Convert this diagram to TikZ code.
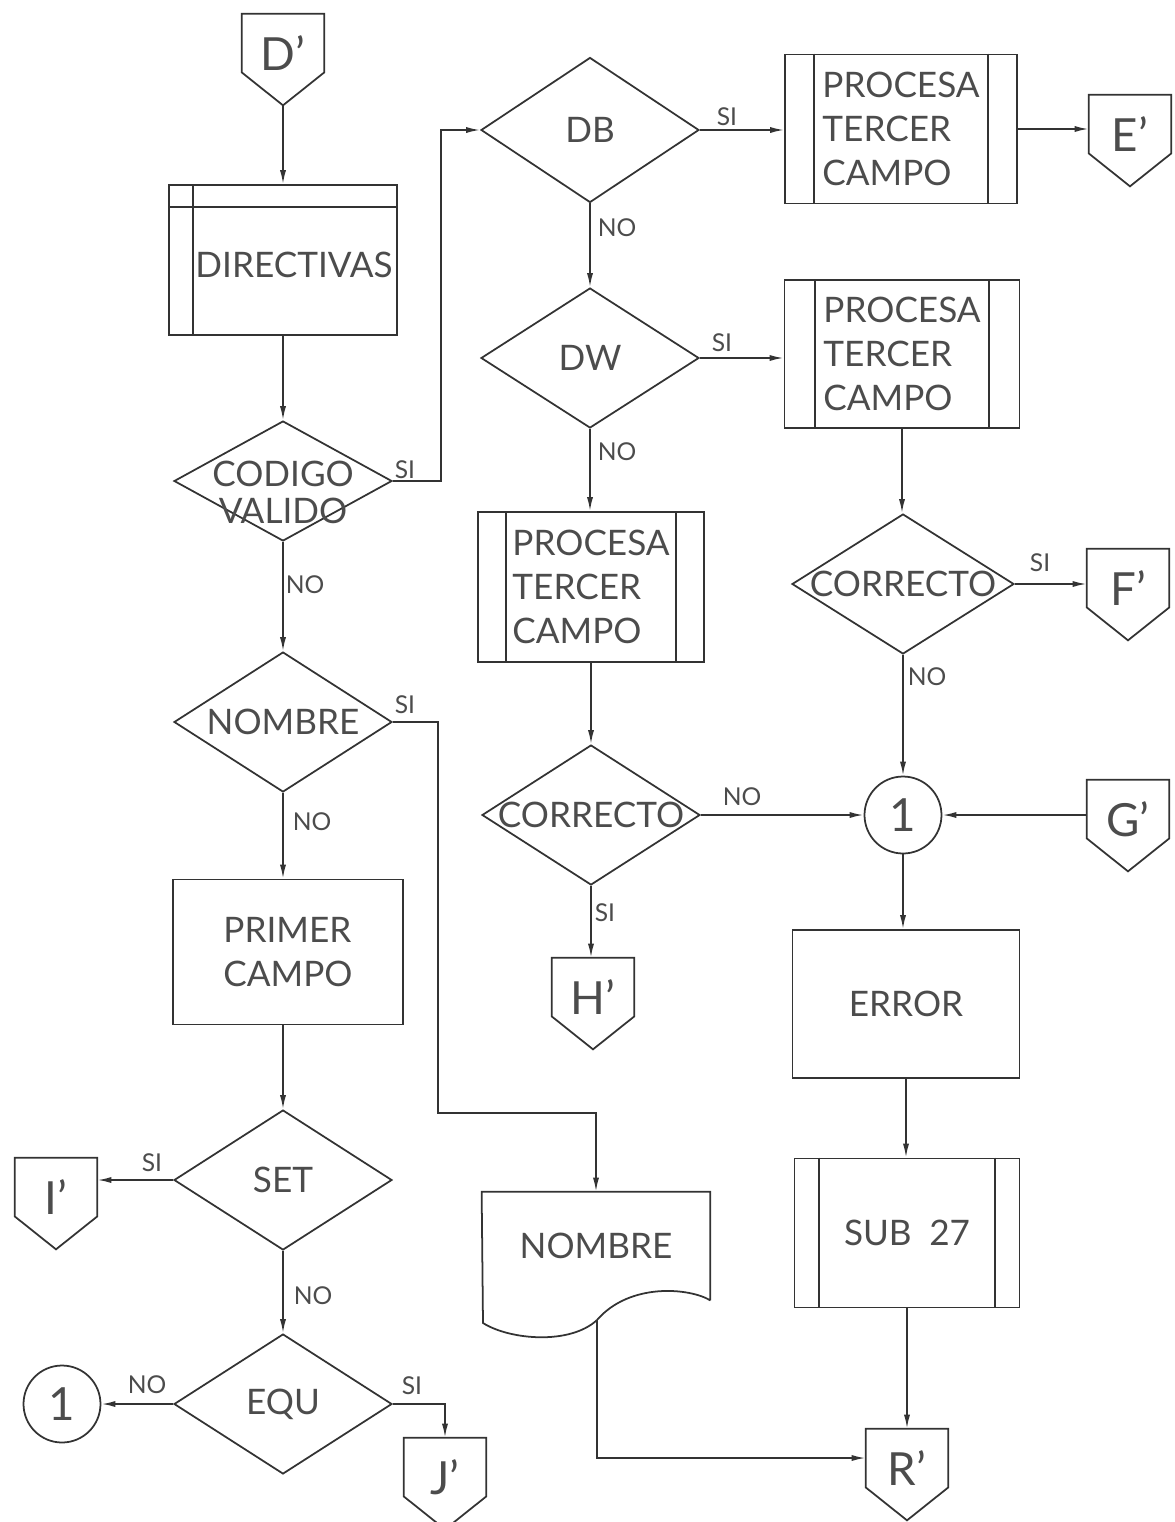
\documentclass[tikz,border=0pt]{standalone}
\usepackage{fontspec}
\setmainfont{Lato}
\usetikzlibrary{arrows.meta,shapes.geometric}

\tikzset{
  linea/.style={draw=black!80, line width=1pt},
  flujo/.style={linea, -{Latex[length=8pt,width=3.5pt]}},
  texto/.style={text=black!70, font=\fontsize{20}{25}\selectfont},
  caja/.style={linea, rectangle, inner sep=0, texto},
  decis/.style={linea, diamond, inner sep=0, minimum width=4.36cm, minimum height=2.8cm},
  conect/.style={rectangle, inner sep=0, minimum width=1.64cm, minimum height=1.16cm},
  letra/.style={text=black!70, font=\fontsize{26}{30}\selectfont},
  circ/.style={linea, circle, inner sep=0, minimum size=1.54cm, letra},
  etiq/.style={text=black!70, font=\fontsize{14}{16}\selectfont, inner sep=1pt},
}

%% conector de pagina: nombre, x, y, letra
\newcommand{\conector}[4]{%
  \node[conect, label={[letra, yshift=-0.2cm]center:#4}] (#1) at (#2,#3) {};
  \coordinate (#1t) at ([yshift=-0.66cm]#1.south);
  \draw[linea] (#1.north west) -- (#1.north east) -- (#1.south east) -- (#1t) -- (#1.south west) -- cycle;
}

\begin{document}
\begin{tikzpicture}[x=0.02cm, y=-0.02cm]
  \useasboundingbox (0,0) rectangle (1174,1522);
  %% Conectores
  \conector{Dp}{283}{43}{D'}
  \conector{Ep}{1130}{124}{E'}
  \conector{Fp}{1128}{578}{F'}
  \conector{Gp}{1128}{809}{G'}
  \conector{Hp}{593}{987}{H'}
  \conector{Ip}{56}{1187}{I'}
  \conector{Jp}{445}{1467}{J'}
  \conector{Rp}{907}{1458}{R'}
  %% Columna izquierda
  \node[caja, minimum width=4.56cm, minimum height=3cm, label={[texto, xshift=0.22cm, yshift=-0.1cm]center:DIRECTIVAS}] (Dir) at (283,260) {};
  \draw[linea] ([xshift=0.5cm]Dir.north west) -- ([xshift=0.5cm]Dir.south west);
  \draw[linea] ([yshift=-0.46cm]Dir.north west) -- ([yshift=-0.46cm]Dir.north east);
  \node[decis, minimum height=2.4cm, label={[texto, align=center, yshift=-0.22cm, font=\fontsize{20}{21}\selectfont]center:CODIGO\\VALIDO}] (Cod) at (283,481) {};
  \node[decis, label={[texto]center:NOMBRE}] (Nom) at (283,722) {};
  \node[caja, align=left, minimum width=4.6cm, minimum height=2.9cm] (Pri) at (288,952) {PRIMER\\CAMPO};
  \node[decis, label={[texto]center:SET}] (Set) at (283,1180) {};
  \node[decis, label={[texto]center:EQU}] (Equ) at (283,1404) {};
  \node[circ] (C1) at (62,1404) {1};
  %% Columna central
  \node[decis, minimum height=2.9cm, label={[texto]center:DB}] (Db) at (590,130) {};
  \node[decis, label={[texto]center:DW}] (Dw) at (590,358) {};
  \node[caja, align=left, minimum width=4.52cm, minimum height=3cm] (P3) at (591,587) {PROCESA\\TERCER\\CAMPO};
  \node[decis, label={[texto]center:CORRECTO}] (Cor1) at (591,815) {};
  \node[caja, draw=none, minimum width=4.54cm, minimum height=2.14cm] (Doc) at (596,1246) {NOMBRE};
  \draw[linea] (Doc.south east) -- (Doc.north east) -- (Doc.north west) -- (483,1323)
    .. controls (510,1340) and (570,1345) .. (597,1320)
    .. controls (630,1282) and (690,1288) .. (Doc.south east);
  \coordinate (DocS) at (597,1320);
  \coordinate (K1) at (438,1113);
  %% Columna derecha
  \node[caja, align=left, minimum width=4.64cm, minimum height=2.98cm] (P1) at (901,129) {PROCESA\\TERCER\\CAMPO};
  \node[caja, align=left, minimum width=4.7cm, minimum height=2.96cm] (P2) at (902,354) {PROCESA\\TERCER\\CAMPO};
  \node[decis, minimum width=4.44cm, label={[texto]center:CORRECTO}] (Cor2) at (903,584) {};
  \node[circ] (C2) at (903,815) {1};
  \node[caja, minimum width=4.54cm, minimum height=2.96cm] (Err) at (906,1004) {ERROR};
  \node[caja, minimum width=4.5cm, minimum height=2.98cm] (Sub) at (907,1233) {SUB\enspace 27};
  \foreach \n/\w in {P1/0.6cm, P2/0.62cm, P3/0.58cm, Sub/0.5cm} {
    \draw[linea] ([xshift=\w]\n.north west) -- ([xshift=\w]\n.south west);
    \draw[linea] ([xshift=-\w]\n.north east) -- ([xshift=-\w]\n.south east);
  }
  %% Flechas
  \draw[flujo] (Dpt) -- (Dir.north);
  \draw[flujo] (Dir.south) -- (Cod.north);
  \draw[flujo] (Cod.east) -- ++(48,0) |- (Db.west);
  \draw[flujo] (Cod.south) -- (Nom.north);
  \draw[flujo] (Nom.south) -- (Nom.south |- Pri.north);
  \draw[flujo] (Nom.south |- Pri.south) -- (Set.north);
  \draw[flujo] (Set.west) -- (Set.west -| Ip.east);
  \draw[flujo] (Set.south) -- (Equ.north);
  \draw[flujo] (Equ.west) -- (C1.east);
  \draw[flujo] (Equ.east) -| (Jp.north);
  \draw[flujo] (Nom.east) -| (K1) -| (Doc.north);
  \draw[flujo] (DocS) |- (Rp.west);
  \draw[flujo] (Db.east) -- (Db.east -| P1.west);
  \draw[flujo] (P1.east) -- (P1.east -| Ep.west);
  \draw[flujo] (Db.south) -- (Dw.north);
  \draw[flujo] (Dw.east) -- (Dw.east -| P2.west);
  \draw[flujo] (Dw.south) -- (Dw.south |- P3.north);
  \draw[flujo] (P3.south) -- (Cor1.north);
  \draw[flujo] (Cor1.east) -- (C2.west);
  \draw[flujo] (Cor1.south) -- (Cor1.south |- Hp.north);
  \draw[flujo] (P2.south) -- (P2.south |- Cor2.north);
  \draw[flujo] (Cor2.east) -- (Cor2.east -| Fp.west);
  \draw[flujo] (Cor2.south) -- (C2.north);
  \draw[flujo] (C2.east -| Gp.west) -- (C2.east);
  \draw[flujo] (C2.south) -- (C2.south |- Err.north);
  \draw[flujo] (Err.south) -- (Err.south |- Sub.north);
  \draw[flujo] (Sub.south) -- (Sub.south |- Rp.north);
  %% Etiquetas
  \node[etiq] (sCod) at (405,470) {SI};
  \node[etiq] (nCod) at (305,585) {NO};
  \node[etiq] (sNom) at (405,705) {SI};
  \node[etiq] (nNom) at (312,822) {NO};
  \node[etiq] (sSet) at (152,1163) {SI};
  \node[etiq] (nSet) at (313,1296) {NO};
  \node[etiq] (nEqu) at (147,1385) {NO};
  \node[etiq] (sEqu) at (412,1386) {SI};
  \node[etiq] (sDb) at (727,117) {SI};
  \node[etiq] (nDb) at (617,228) {NO};
  \node[etiq] (sDw) at (722,343) {SI};
  \node[etiq] (nDw) at (617,452) {NO};
  \node[etiq] (nCor1) at (742,797) {NO};
  \node[etiq] (sCor1) at (605,913) {SI};
  \node[etiq] (sCor2) at (1040,563) {SI};
  \node[etiq] (nCor2) at (927,677) {NO};
\end{tikzpicture}
\end{document}
